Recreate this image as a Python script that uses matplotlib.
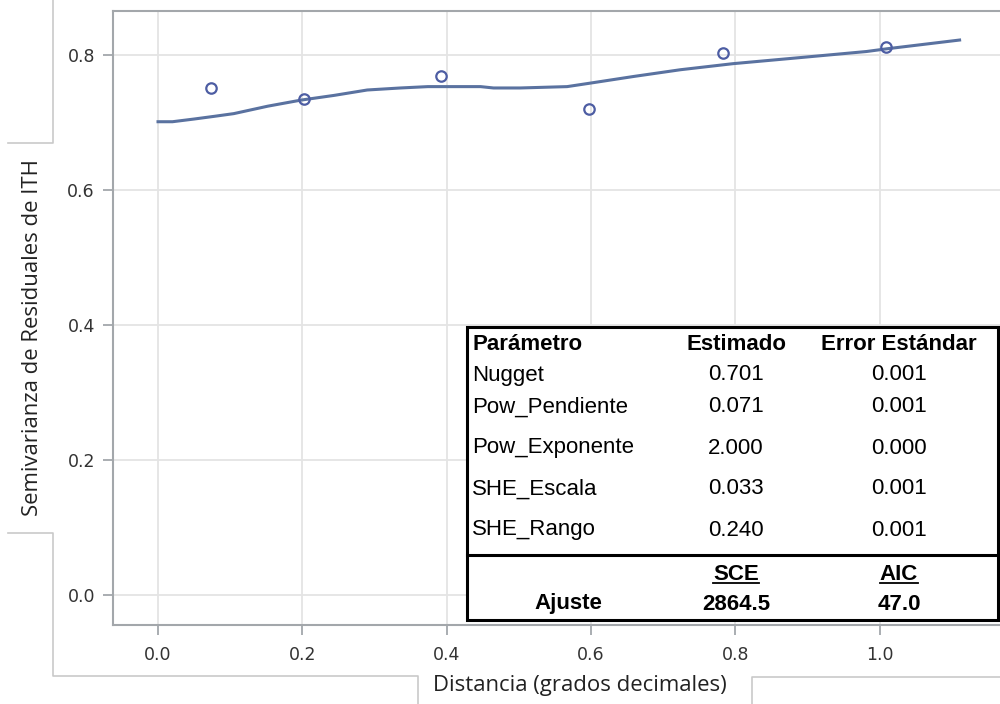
import numpy as np
import matplotlib
matplotlib.use("Agg")
import matplotlib.pyplot as plt
from matplotlib.lines import Line2D
from matplotlib.patches import Rectangle

# empirical semivariogram (lag distance vs semivariance)
lag = [0.073, 0.203, 0.392, 0.598, 0.783, 1.009]
semivar = [0.751, 0.735, 0.768, 0.720, 0.803, 0.812]

# fitted model curve
fit_x = [0.0, 0.02, 0.05, 0.078, 0.105, 0.152, 0.198, 0.244, 0.29, 0.336,
         0.374, 0.447, 0.465, 0.502, 0.567, 0.598, 0.659, 0.724, 0.797,
         0.890, 0.982, 1.01, 1.111]
fit_y = [0.701, 0.701, 0.705, 0.709, 0.713, 0.724, 0.733, 0.740, 0.748, 0.751,
         0.753, 0.753, 0.751, 0.751, 0.753, 0.758, 0.768, 0.778, 0.787,
         0.796, 0.805, 0.809, 0.822]

xticks = [0.0, 0.2, 0.4, 0.6, 0.8, 1.0]
yticks = [0.0, 0.2, 0.4, 0.6, 0.8]

# parameter table
params = ["Nugget", "Pow_Pendiente", "Pow_Exponente", "SHE_Escala", "SHE_Rango"]
estimates = ["0.701", "0.071", "2.000", "0.033", "0.240"]
std_errors = ["0.001", "0.001", "0.000", "0.001", "0.001"]
sce = "2864.5"
aic = "47.0"

W, H = 1000, 704
fig = plt.figure(figsize=(W / 100, H / 100), dpi=100)


def px(x, y):
    return x / W, 1 - y / H


ax = fig.add_axes([113 / W, 79 / H, 887 / W, 614 / H])
ax.plot(fit_x, fit_y, color="#5a72a0", lw=2.2, zorder=3)
ax.plot(lag, semivar, "o", ms=7.5, mfc="none", mec="#4d5da3", mew=1.6, zorder=4)

ax.set_xlim(-0.0624, 1.167)
ax.set_ylim(-0.0444, 0.865)
ax.set_xticks(xticks)
ax.set_yticks(yticks)
ax.set_xticklabels([f"{v:.1f}" for v in xticks])
ax.set_yticklabels([f"{v:.1f}" for v in yticks])
ax.grid(True, color="#e4e4e4", lw=1.3)
ax.set_axisbelow(True)
for s in ["left", "bottom", "top"]:
    ax.spines[s].set_color("#a3a7ab")
    ax.spines[s].set_linewidth(1.5)
ax.spines["right"].set_visible(False)
ax.tick_params(axis="both", colors="#a3a7ab", length=7, width=1.3,
               labelcolor="#333333", labelsize=12.5)
ax.tick_params(axis="x", pad=8)
ax.tick_params(axis="y", pad=6)
for lbl in ax.get_xticklabels() + ax.get_yticklabels():
    lbl.set_family("DejaVu Sans")

fig.text(*px(580, 686), "Distancia (grados decimales)", ha="center", va="center",
         fontsize=15.9, family="Open Sans", color="#222222")
fig.text(*px(33, 338), "Semivarianza de Residuales de ITH", ha="center", va="center",
         rotation=90, fontsize=15.9, family="Open Sans", color="#222222")

# leftover frame edges around the plot
frame_segments = [
    [(53, 0), (53, 143), (8, 143)],
    [(8, 533), (53, 533), (53, 676), (418, 676), (418, 704)],
    [(752, 704), (752, 677), (1000, 677)],
]
for seg in frame_segments:
    xs, ys = zip(*[px(x, y) for x, y in seg])
    fig.add_artist(Line2D(xs, ys, color="#c9c9c9", lw=1.2))

# parameter table box
x0, y0, x1, y1 = 467, 327, 998, 620
fig.add_artist(Rectangle(px(x0, y1), (x1 - x0) / W, (y1 - y0) / H,
                         facecolor="white", edgecolor="black", lw=2.2, zorder=5))
fig.add_artist(Line2D([x0 / W, x1 / W], [1 - 555 / H] * 2, color="black", lw=2.2, zorder=6))

tfont = dict(family="Liberation Sans", fontsize=16, color="black", zorder=7, va="center")
col_name, col_est, col_err = 472, 736, 899
fig.text(*px(col_name, 345), "Parámetro", ha="left", weight="bold", **tfont)
fig.text(*px(col_est, 345), "Estimado", ha="center", weight="bold", **tfont)
fig.text(*px(col_err, 345), "Error Estándar", ha="center", weight="bold", **tfont)
row_y = [375, 407, 448, 489, 530]
for ry, name, est, err in zip(row_y, params, estimates, std_errors):
    fig.text(*px(col_name, ry), name, ha="left", **tfont)
    fig.text(*px(col_est, ry), est, ha="center", **tfont)
    fig.text(*px(col_err, ry), err, ha="center", **tfont)

h_sce = fig.text(*px(col_est, 574), "SCE", ha="center", weight="bold", **tfont)
h_aic = fig.text(*px(col_err, 574), "AIC", ha="center", weight="bold", **tfont)
fig.text(*px(568, 604), "Ajuste", ha="center", weight="bold", **tfont)
fig.text(*px(col_est, 604), sce, ha="center", weight="bold", **tfont)
fig.text(*px(col_err, 604), aic, ha="center", weight="bold", **tfont)

# underline the fit statistic headers
fig.canvas.draw()
r = fig.canvas.get_renderer()
for t in (h_sce, h_aic):
    bb = t.get_window_extent(r).transformed(fig.transFigure.inverted())
    uy = bb.y0 + 0.002
    fig.add_artist(Line2D([bb.x0, bb.x1], [uy, uy], color="black", lw=1.3, zorder=7))

fig.savefig("out.png", dpi=100)
